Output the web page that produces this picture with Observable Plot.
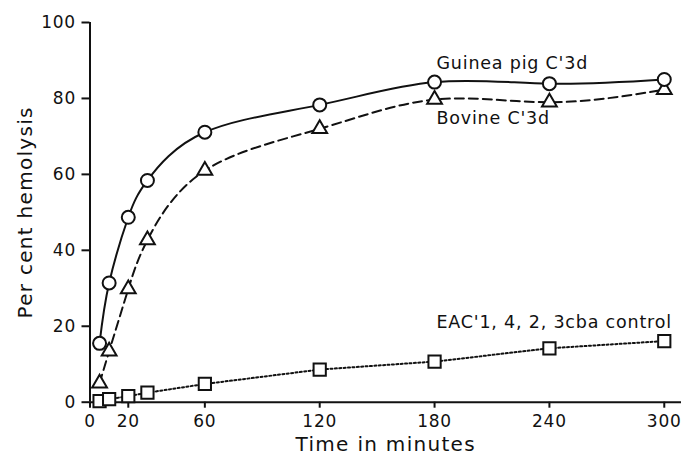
<!DOCTYPE html>
<html>
<head>
<meta charset="utf-8">
<script src="https://cdn.jsdelivr.net/npm/d3@7"></script>
<script src="https://cdn.jsdelivr.net/npm/@observablehq/plot@0.6"></script>
<style>
  html, body { margin: 0; padding: 0; background: #fff; }
  #chart svg text { letter-spacing: 0.8px; }
  #chart svg [aria-label="x-axis label"] text,
  #chart svg [aria-label="y-axis label"] text { font-size: 20px; letter-spacing: 1.3px; }
</style>
</head>
<body>
<div id="chart"></div>
<script>
// Data
const times = [5, 10, 20, 30, 60, 120, 180, 240, 300];
const guineaPig = [15.5, 31.4, 48.7, 58.4, 71.1, 78.3, 84.3, 83.9, 85.0];
const bovine = [5.0, 13.4, 29.8, 42.7, 61.0, 72.0, 79.7, 79.0, 82.3];
const control = [0.3, 0.8, 1.6, 2.5, 4.8, 8.6, 10.7, 14.2, 16.1];

const xTicks = [0, 20, 60, 120, 180, 240, 300];
const yTicks = [0, 20, 40, 60, 80, 100];

const seriesNames = ["Guinea pig C'3d", "Bovine C'3d", "EAC'1, 4, 2, 3cba control"];
const labelTimes = [181, 181, 181];
const labelValues = [89.2, 74.7, 21.1];

const toRows = (vals) => times.map((t, i) => ({t, v: vals[i]}));
const gp = toRows(guineaPig);
const bv = toRows(bovine);
const ct = toRows(control);
const labels = seriesNames.map((name, i) => ({name, t: labelTimes[i], v: labelValues[i]}));

const chart = Plot.plot({
  width: 688,
  height: 460,
  marginLeft: 89.5,
  marginRight: 7,
  marginTop: 22,
  marginBottom: 58.3,
  style: {fontFamily: "DejaVu Sans", fontSize: "17px", color: "#111", background: "#fff"},
  x: {domain: [0, 309]},
  y: {domain: [0, 100]},
  marks: [
    Plot.axisY({ticks: yTicks, tickSize: 8, tickPadding: 6, fontSize: 17, strokeWidth: 2,
      label: "Per cent hemolysis", labelAnchor: "center", labelArrow: "none", labelOffset: 72}),
    Plot.axisX({ticks: xTicks, tickSize: 6, tickPadding: 7, fontSize: 17, strokeWidth: 2,
      label: "Time in minutes", labelAnchor: "center", labelArrow: "none", labelOffset: 49}),
    Plot.ruleX([0], {stroke: "#111", strokeWidth: 2}),
    Plot.ruleY([0], {stroke: "#111", strokeWidth: 2}),
    Plot.line(gp, {x: "t", y: "v", curve: "natural", stroke: "#111", strokeWidth: 2}),
    Plot.line(bv, {x: "t", y: "v", curve: "natural", stroke: "#111", strokeWidth: 2, strokeDasharray: "9,5"}),
    Plot.line(ct, {x: "t", y: "v", curve: "linear", stroke: "#111", strokeWidth: 2, strokeDasharray: "2,2.4"}),
    Plot.dot(ct, {x: "t", y: "v", symbol: "square", r: 6.9, fill: "white", stroke: "#111", strokeWidth: 2}),
    Plot.dot(bv, {x: "t", y: "v", symbol: "triangle", r: 5.5, fill: "white", stroke: "#111", strokeWidth: 2}),
    Plot.dot(gp, {x: "t", y: "v", symbol: "circle", r: 6.5, fill: "white", stroke: "#111", strokeWidth: 2}),
    Plot.text(labels, {x: "t", y: "v", text: "name", textAnchor: "start", fontSize: 17.5, fill: "#111"})
  ]
});
document.getElementById("chart").appendChild(chart);
</script>
</body>
</html>
